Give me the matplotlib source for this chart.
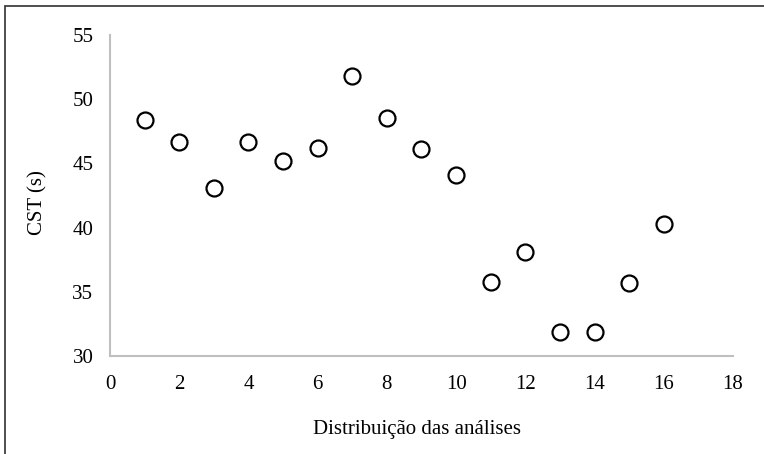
import numpy as np
import matplotlib
matplotlib.use('Agg')
import matplotlib.pyplot as plt
from matplotlib.patches import Rectangle

# dados
analise = [1, 2, 3, 4, 5, 6, 7, 8, 9, 10, 11, 12, 13, 14, 15, 16]
cst = [48.4, 46.7, 43.1, 46.7, 45.2, 46.2, 51.8, 48.5, 46.1, 44.1,
       35.8, 38.1, 31.9, 31.9, 35.7, 40.3]
xticks = [0, 2, 4, 6, 8, 10, 12, 14, 16, 18]
yticks = [30, 35, 40, 45, 50, 55]

plt.rcParams['font.family'] = ['Liberation Serif', 'DejaVu Serif']

W, H = 764, 454
fig = plt.figure(figsize=(W / 100, H / 100), dpi=100)
ax = fig.add_axes([110 / W, 1 - 356 / H, (733 - 110) / W, (356 - 35) / H])

ax.plot(analise, cst, linestyle='none', marker='o', markersize=11.5,
        markerfacecolor='white', markeredgecolor='black', markeredgewidth=1.6)

ax.set_xlim(0, 18)
ax.set_ylim(30, 55)
ax.set_xticks(xticks)
ax.set_yticks(yticks)
ax.tick_params(length=0, labelsize=15)
ax.tick_params(axis='x', pad=13.5)
ax.tick_params(axis='y', pad=12)
for s in ['top', 'right']:
    ax.spines[s].set_visible(False)
for s in ['left', 'bottom']:
    ax.spines[s].set_color('#bfbfbf')
    ax.spines[s].set_linewidth(1.5)

fig.text(38 / W, 1 - 203 / H, 'CST (s)', rotation=90, ha='center', va='center', fontsize=15)
fig.text(417 / W, 1 - 434 / H, 'Distribuição das análises', ha='center', va='baseline', fontsize=15)

# moldura
fig.patches.append(Rectangle((4.5 / W, -0.1), 1.1, 1 - 5.5 / H + 0.1, transform=fig.transFigure,
                             fill=False, edgecolor='#404040', linewidth=1.3))

fig.savefig('out.png', dpi=100)
